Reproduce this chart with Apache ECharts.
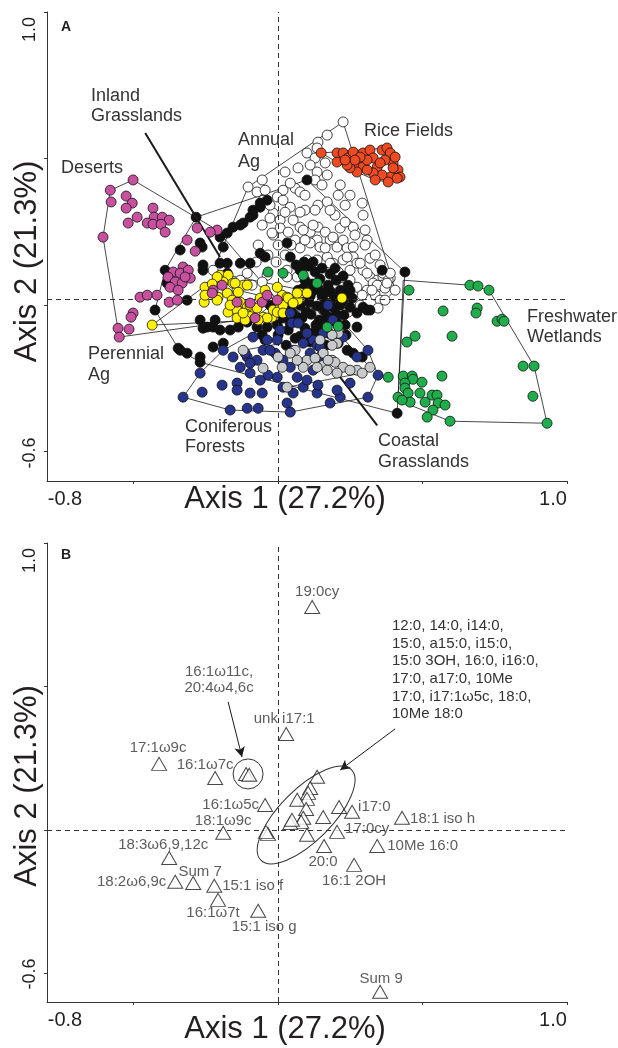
<!DOCTYPE html>
<html><head><meta charset="utf-8">
<script src="https://cdn.jsdelivr.net/npm/echarts@6.0.0/dist/echarts.min.js"></script>
<style>html,body{margin:0;padding:0;background:#fff}#c{width:618px;height:1048px}</style>
</head><body><div id="c"></div>
<script>
// ---------------- DATA ----------------
const xTickValues = [-0.5, 0, 0.5, 1.0];
const yTickValues = [-0.5, 0, 0.5, 1.0];
const xTickLabels = [-0.8, 1.0];
const yTickLabels = [-0.6, 1.0];
const axis1Title = 'Axis 1 (27.2%)';
const axis2Title = 'Axis 2 (21.3%)';
const panelLetters = ['A', 'B'];
const habitatNames = ['Inland\nGrasslands','Deserts','Annual\nAg','Rice Fields','Freshwater\nWetlands','Perennial\nAg','Coniferous\nForests','Coastal\nGrasslands'];

// Panel A: site scores
const deserts = [[-0.502,0.427],[-0.581,0.392],[-0.578,0.352],[-0.526,0.372],[-0.505,0.348],[-0.526,0.331],[-0.488,0.300],[-0.519,0.280],[-0.433,0.331],[-0.429,0.300],[-0.401,0.300],[-0.377,0.290],[-0.453,0.280],[-0.433,0.276],[-0.405,0.276],[-0.391,0.249],[-0.606,0.232],[-0.280,0.263],[-0.211,0.256],[-0.235,0.249],[-0.315,0.222],[-0.287,0.184],[-0.329,0.130],[-0.363,0.113],[-0.339,0.109],[-0.311,0.119],[-0.381,0.096],[-0.356,0.079],[-0.332,0.075],[-0.304,0.092],[-0.374,0.061],[-0.346,0.051],[-0.377,0.010],[-0.349,0.017],[-0.478,0.027],[-0.453,0.034],[-0.419,0.034],[-0.502,-0.027],[-0.509,-0.041],[-0.554,-0.079],[-0.516,-0.082],[-0.550,-0.109],[-0.225,0.051],[-0.194,0.068],[-0.228,0.041],[-0.142,0.010],[-0.097,0.007],[-0.055,0.010],[-0.038,0.034],[-0.003,0.017],[-0.080,-0.044],[-0.322,0.096]];
const inlandGrasslands = [[-0.253,0.061],[-0.256,0.010],[-0.201,0.102],[-0.173,0.102],[-0.190,0.079],[-0.156,0.075],[-0.121,0.068],[-0.208,0.027],[-0.176,0.041],[-0.159,0.017],[-0.131,0.010],[-0.173,-0.024],[-0.142,-0.017],[-0.142,-0.044],[-0.114,-0.024],[-0.097,-0.034],[-0.107,-0.007],[-0.087,-0.007],[-0.052,-0.041],[-0.021,-0.041],[-0.017,-0.017],[0.007,-0.010],[0.014,0.034],[0.042,0.017],[0.069,0.017],[0.076,0.041],[0.100,0.041],[0.031,0.027],[-0.003,0.061],[0.221,0.024],[-0.436,-0.068],[-0.253,0.034],[-0.149,0.075],[-0.138,0.044],[-0.107,0.068],[-0.114,-0.051],[-0.097,0.000],[-0.038,-0.044],[-0.003,-0.024],[0.017,0.000],[0.035,0.024],[0.066,0.041],[-0.211,0.096],[-0.211,0.017],[-0.121,-0.027],[-0.073,-0.010],[0.017,-0.027],[0.052,0.007],[-0.062,0.024],[-0.045,0.051],[-0.166,0.000],[-0.228,0.072],[-0.069,-0.051]];
const riceFields = [[0.149,0.519],[0.204,0.519],[0.204,0.488],[0.225,0.519],[0.242,0.502],[0.260,0.522],[0.273,0.485],[0.294,0.519],[0.294,0.471],[0.318,0.529],[0.329,0.502],[0.343,0.471],[0.360,0.529],[0.377,0.536],[0.388,0.519],[0.398,0.485],[0.415,0.461],[0.422,0.437],[0.388,0.437],[0.360,0.444],[0.329,0.451],[0.308,0.461],[0.273,0.454],[0.249,0.468],[0.370,0.495],[0.398,0.468],[0.353,0.485],[0.308,0.495],[0.284,0.505],[0.239,0.478],[0.412,0.433],[0.381,0.420],[0.336,0.427],[0.405,0.505],[0.266,0.495],[0.232,0.495]];
const annualAg = [[0.225,0.625],[0.170,0.580],[0.138,0.556],[0.135,0.536],[0.100,0.519],[0.128,0.502],[0.163,0.485],[0.111,0.478],[0.069,0.468],[0.135,0.454],[0.170,0.444],[0.128,0.427],[0.059,0.399],[0.017,0.392],[0.076,0.386],[-0.104,0.403],[-0.073,0.386],[-0.052,0.358],[-0.003,0.369],[0.017,0.358],[0.208,0.375],[0.170,0.352],[0.291,0.348],[-0.017,0.314],[-0.028,0.297],[0.007,0.290],[0.052,0.290],[0.076,0.266],[0.007,0.263],[-0.017,0.239],[0.035,0.249],[0.059,0.222],[0.111,0.249],[0.138,0.266],[0.163,0.249],[0.135,0.222],[0.111,0.212],[0.145,0.198],[0.180,0.222],[0.204,0.198],[0.225,0.222],[0.239,0.195],[0.260,0.198],[0.260,0.164],[0.273,0.143],[0.294,0.119],[0.318,0.096],[0.343,0.085],[0.363,0.096],[0.388,0.092],[0.360,0.068],[0.225,0.154],[0.190,0.143],[0.170,0.164],[0.100,0.154],[0.076,0.130],[0.031,0.119],[-0.225,0.119],[-0.107,0.109],[-0.038,0.102],[-0.021,0.246],[0.087,0.256],[0.121,0.273],[0.190,0.232],[0.215,0.263],[0.260,0.266],[0.308,0.222],[0.135,0.154],[0.180,0.143],[0.239,0.164],[0.284,0.143],[0.249,0.119],[0.308,0.109],[0.329,0.075],[0.343,0.061],[0.308,0.051],[0.273,0.061],[0.225,0.061],[0.204,0.027],[0.066,0.096],[0.031,0.096],[-0.142,0.051],[0.156,-0.017],[0.363,0.109],[0.381,0.085],[0.343,0.068],[0.370,0.058],[0.336,0.034],[0.353,0.017],[0.346,-0.010],[0.377,0.075],[0.388,0.109],[0.042,0.334],[0.093,0.324],[-0.055,0.273],[-0.069,0.205],[0.076,0.195],[0.024,0.171],[0.301,0.256],[0.318,0.160],[0.294,0.307],[0.197,0.307],[0.232,0.341],[-0.045,0.392],[0.042,0.416],[0.093,0.375],[0.138,0.341],[0.180,0.324],[0.232,0.283],[0.266,0.239],[0.301,0.205],[0.336,0.171],[0.353,0.137],[0.325,0.051],[0.291,0.034],[0.249,0.085],[0.208,0.113],[0.163,0.195],[0.093,0.222],[0.045,0.205],[0.000,0.205],[-0.035,0.171],[-0.007,0.147],[-0.076,0.147],[-0.131,0.085],[-0.090,0.068],[-0.055,0.079],[0.128,0.324],[-0.028,0.341],[0.024,0.317],[0.076,0.317],[0.152,0.410],[0.215,0.410],[0.249,0.375],[0.024,0.454],[-0.055,0.427],[0.405,0.051],[0.370,0.017],[0.284,0.000],[0.242,-0.024]];
const perennialAg = [[-0.284,0.300],[0.100,0.427],[0.439,0.113],[0.412,-0.369],[-0.270,0.212],[-0.339,0.188],[-0.391,0.119],[-0.426,-0.017],[-0.315,0.017],[-0.263,0.198],[-0.190,0.198],[-0.176,0.246],[-0.156,0.266],[-0.121,0.280],[-0.097,0.300],[-0.087,0.324],[-0.062,0.348],[-0.038,0.358],[-0.176,0.143],[-0.131,0.143],[-0.176,0.109],[-0.062,0.177],[0.042,0.164],[0.031,0.212],[-0.225,-0.075],[-0.246,-0.075],[-0.339,-0.154],[-0.315,-0.164],[-0.045,0.164],[-0.097,0.143],[-0.201,0.143],[-0.260,0.119],[-0.384,0.075],[-0.270,-0.051],[-0.260,-0.079],[-0.218,-0.051],[-0.201,-0.085],[-0.166,-0.085],[-0.225,-0.143],[-0.190,-0.130],[-0.346,-0.147],[-0.270,-0.177],[-0.107,-0.058],[-0.138,-0.075],[-0.073,-0.075],[-0.038,-0.075],[-0.003,-0.068],[0.042,-0.061],[0.066,-0.041],[0.273,-0.075],[0.260,-0.164],[0.291,-0.177],[0.239,-0.154],[0.208,-0.130],[0.360,0.119],[0.318,-0.017],[-0.131,0.273],[-0.201,0.232],[-0.260,0.137],[-0.062,0.334],[-0.087,0.307],[-0.270,-0.195],[0.249,-0.007],[0.273,-0.027],[0.294,-0.007],[0.308,-0.017],[0.225,0.017],[0.076,0.119],[0.104,0.133],[0.128,0.113],[0.152,0.126],[0.180,0.106],[0.093,0.085],[0.118,0.072],[0.145,0.089],[0.173,0.068],[0.201,0.085],[0.069,0.051],[0.097,0.038],[0.125,0.051],[0.152,0.031],[0.180,0.048],[0.215,0.051],[0.076,0.000],[0.107,0.010],[0.135,-0.003],[0.163,0.010],[0.190,-0.007],[0.048,-0.024],[0.083,-0.044],[0.114,-0.031],[0.142,-0.051],[0.170,-0.038],[0.201,-0.058],[0.228,-0.034],[0.093,-0.079],[0.125,-0.092],[0.152,-0.075],[0.180,-0.099],[0.111,-0.126],[0.145,-0.119],[0.035,-0.085],[0.059,-0.113],[0.017,-0.044],[0.031,-0.010],[0.232,-0.068],[0.249,0.051],[0.121,0.147],[-0.045,-0.119],[-0.028,0.000],[-0.055,-0.102],[0.000,-0.102],[0.028,-0.137],[0.062,0.137],[0.090,0.147],[0.197,0.126],[0.225,0.099],[0.242,0.068],[0.256,0.024],[0.215,0.000],[0.235,-0.102],[0.201,-0.119],[0.166,-0.137],[0.076,-0.106],[0.048,-0.058],[0.062,0.017],[0.087,0.058],[0.111,0.031],[0.138,0.058],[0.166,0.044],[0.194,0.027],[0.228,0.038],[0.173,-0.058],[0.131,-0.068],[0.097,-0.024],[0.159,-0.017],[0.201,-0.031]];
const freshwaterWetlands = [[0.453,0.051],[0.664,0.068],[0.692,0.065],[0.730,0.051],[0.571,-0.020],[0.689,-0.010],[0.685,-0.027],[0.758,-0.055],[0.775,-0.048],[0.782,-0.055],[0.474,-0.106],[0.446,-0.126],[0.602,-0.106],[0.848,-0.208],[0.886,-0.208],[0.381,-0.246],[0.433,-0.242],[0.464,-0.242],[0.467,-0.253],[0.439,-0.266],[0.498,-0.263],[0.567,-0.242],[0.882,-0.311],[0.439,-0.283],[0.450,-0.300],[0.457,-0.331],[0.491,-0.300],[0.509,-0.331],[0.533,-0.307],[0.550,-0.307],[0.554,-0.334],[0.578,-0.341],[0.415,-0.314],[0.429,-0.324],[0.536,-0.358],[0.516,-0.382],[0.595,-0.396],[0.931,-0.403],[-0.035,0.113],[0.017,0.109],[0.087,0.102],[0.135,0.075],[0.170,-0.075],[0.208,-0.072]];
const wetlandsOutline = [[0.433,0.085],[0.664,0.068],[0.730,0.051],[0.886,-0.208],[0.931,-0.403],[0.595,-0.396],[0.415,-0.324],[0.433,0.085]];
const coniferousForests = [[-0.270,-0.232],[-0.329,-0.314],[-0.263,-0.297],[-0.194,-0.273],[-0.142,-0.266],[-0.166,-0.358],[-0.107,-0.352],[-0.069,-0.352],[0.031,-0.334],[0.052,-0.300],[0.087,-0.280],[0.135,-0.300],[0.180,-0.334],[0.215,-0.314],[0.249,-0.266],[0.311,-0.314],[0.346,-0.239],[0.311,-0.154],[0.187,-0.051],[0.156,-0.096],[0.121,-0.119],[0.087,-0.130],[0.052,-0.154],[0.017,-0.188],[-0.010,-0.164],[-0.052,-0.154],[-0.073,-0.188],[-0.107,-0.177],[-0.131,-0.212],[-0.156,-0.177],[-0.190,-0.154],[-0.087,-0.109],[0.042,-0.027],[0.048,-0.061],[0.007,-0.085],[-0.003,-0.119],[0.173,0.000],[0.135,-0.137],[0.145,-0.177],[0.121,-0.222],[0.138,-0.273],[0.100,-0.256],[0.066,-0.246],[-0.003,-0.246],[-0.035,-0.239],[0.017,-0.280],[-0.062,-0.256],[-0.097,-0.232],[-0.142,-0.290],[0.204,-0.290],[-0.097,-0.300],[-0.055,-0.300],[0.190,-0.051],[0.069,-0.061],[-0.038,-0.119],[-0.114,-0.164],[-0.097,-0.198],[-0.028,-0.154],[0.100,-0.096],[0.145,-0.143],[0.111,-0.164],[0.083,-0.198],[0.042,-0.212],[0.225,-0.109],[0.273,-0.177],[0.042,-0.365]];
const coastalGrasslands = [[0.208,-0.096],[0.187,-0.102],[0.204,-0.130],[0.156,-0.164],[0.187,-0.188],[0.273,-0.222],[0.318,-0.212],[0.100,-0.188],[0.087,-0.212],[0.066,-0.188],[0.000,-0.177],[0.059,-0.154],[0.014,-0.212],[-0.052,-0.215],[-0.121,-0.154],[0.031,-0.280],[0.145,-0.119],[0.187,-0.137],[0.197,-0.195],[0.156,-0.205],[0.225,-0.212],[0.249,-0.222],[0.291,-0.232],[0.042,-0.164],[0.128,-0.181],[0.173,-0.188],[0.204,-0.232],[0.170,-0.222],[0.135,-0.212]];
// Panel A pointer lines: [label end, group end]
const pointerInland = [[-0.460,0.587],[-0.201,0.164]];
const pointerCoastal = [[0.204,-0.232],[0.343,-0.410]];
const originA = [0, 0.02];

// Panel B: fatty acid loadings
const famNames = ['19:0cy','unk i17:1','17:1ω9c','16:1ω7c','16:1ω11c','20:4ω4,6c','16:1ω5c','18:1ω9c','18:3ω6,9,12c','Sum 7','18:2ω6,9c','15:1 iso f','16:1ω7t','15:1 iso g','Sum 9','18:1 iso h','10Me 16:0','16:1 2OH','20:0','17:0cy','i17:0'];
const famX = [0.118,0.028,-0.412,-0.218,-0.111,-0.100,-0.045,-0.190,-0.377,-0.294,-0.356,-0.221,-0.208,-0.069,0.353,0.429,0.343,0.263,0.159,0.204,0.256];
const famY = [0.777,0.334,0.230,0.181,0.195,0.192,0.087,-0.010,-0.098,-0.185,-0.181,-0.195,-0.244,-0.282,-0.564,0.042,-0.056,-0.122,-0.056,-0.007,0.063];
const clusterNames = ['12:0','14:0','i14:0','15:0','a15:0','i15:0','15:0 3OH','16:0','i16:0','17:0','a17:0','10Me 17:0','i17:1ω5c','18:0','10Me 18:0'];
const clusterX = [0.135,0.111,0.104,0.100,0.066,0.097,0.087,0.080,0.042,0.048,0.100,0.156,0.211,-0.035,-0.042];
const clusterY = [0.185,0.146,0.129,0.108,0.105,0.073,0.042,0.028,0.024,0.035,-0.017,0.045,0.080,-0.014,-0.007];
const clusterText = '12:0, 14:0, i14:0,\n15:0, a15:0, i15:0,\n15:0 3OH, 16:0, i16:0,\n17:0, a17:0, 10Me\n17:0, i17:1ω5c, 18:0,\n10Me 18:0';
const circledText = '16:1ω11c,\n20:4ω4,6c';
const ellipseCenter = [0.097, 0.052];
const circleCenter = [-0.104, 0.195];
const arrowCircled = [[-0.173,0.446],[-0.125,0.254]];
const arrowCluster = [[0.405,0.352],[0.215,0.209]];
const originB = [0, 0];

// ---------------- LAYOUT / STYLE ----------------
const FONT = '"Liberation Sans", Arial, Helvetica, sans-serif';
const INK = '#231f20';
// label offsets (px) relative to triangle centre: [dx, dy, align]
const famLabelLayout = {
 '19:0cy':[5,-15,'center'],'unk i17:1':[-2,-15,'center'],'17:1ω9c':[-1,-16,'center'],'16:1ω7c':[-10,-13,'center'],
 '16:1ω11c':[-27,-94,'center'],'16:1ω5c':[-6,0,'right'],'18:1ω9c':[0,-12,'center'],'18:3ω6,9,12c':[-6,-13,'center'],
 'Sum 7':[7,-11,'center'],'18:2ω6,9c':[-9,0,'right'],'15:1 iso f':[8,0,'left'],'16:1ω7t':[-5,13,'center'],
 '15:1 iso g':[6,16,'center'],'Sum 9':[1,-13,'center'],'18:1 iso h':[8,1,'left'],'10Me 16:0':[10,0,'left'],
 '16:1 2OH':[0,16,'center'],'20:0':[-1,16,'center'],'17:0cy':[8,-3,'left'],'i17:0':[6,-5,'left']
};
const habitatLayout = [[91,106,20],[61,168,20],[238,151,22],[364,131,20],[527,327,20],[88,365,21],[185,437,20],[378,452,21]];

function hull(pts){
  const p = pts.slice().sort((a,b)=>a[0]-b[0]||a[1]-b[1]);
  const cr=(o,a,b)=>(a[0]-o[0])*(b[1]-o[1])-(a[1]-o[1])*(b[0]-o[0]);
  const lo=[],up=[];
  for(const q of p){while(lo.length>=2&&cr(lo[lo.length-2],lo[lo.length-1],q)<=0)lo.pop();lo.push(q);}
  for(let i=p.length-1;i>=0;i--){const q=p[i];while(up.length>=2&&cr(up[up.length-2],up[up.length-1],q)<=0)up.pop();up.push(q);}
  up.pop();lo.pop();const h=lo.concat(up);h.push(h[0]);return h;
}

const groupsA = [
  {name:'Annual Ag', data:annualAg, color:'#ffffff'},
  {name:'Perennial Ag', data:perennialAg, color:'#111111'},
  {name:'Rice Fields', data:riceFields, color:'#ef4b23'},
  {name:'Inland Grasslands', data:inlandGrasslands, color:'#fff200'},
  {name:'Deserts', data:deserts, color:'#c7519f'},
  {name:'Coniferous Forests', data:coniferousForests, color:'#27348b'},
  {name:'Coastal Grasslands', data:coastalGrasslands, color:'#c9cacc'},
  {name:'Freshwater Wetlands', data:freshwaterWetlands, color:'#1fae4b'}
];

function xAxisCfg(gi, gap){
  return {type:'value', gridIndex:gi, min:-0.8, max:1.0, splitLine:{show:false},
    axisLine:{show:true, onZero:false, lineStyle:{color:'#333', width:1}},
    axisTick:{show:true, customValues:xTickValues, length:3, lineStyle:{color:'#333'}},
    axisLabel:{show:true, customValues:xTickLabels, margin:8, color:INK, fontSize:20, fontFamily:FONT,
      formatter:v=> v<0 ? '{lo|'+v.toFixed(1)+'}' : '{hi|'+v.toFixed(1)+'}',
      rich:{lo:{fontSize:20,fontFamily:FONT,color:INK,padding:[0,0,0,36]}, hi:{fontSize:20,fontFamily:FONT,color:INK,padding:[0,28,0,0]}}},
    name:axis1Title, nameLocation:'middle', nameGap:gap, nameMoveOverlap:false,
    nameTextStyle:{fontSize:31, fontFamily:FONT, color:INK, padding:[0,44,0,0]}};
}
function yAxisCfg(gi, padR){
  return {type:'value', gridIndex:gi, min:-0.6, max:1.0, splitLine:{show:false},
    axisLine:{show:true, onZero:false, lineStyle:{color:'#333', width:1}},
    axisTick:{show:true, customValues:yTickValues, length:3, lineStyle:{color:'#333'}},
    axisLabel:{show:true, customValues:yTickLabels, rotate:90, margin:8, color:INK, fontSize:18, fontFamily:FONT,
      formatter:v=> v<0 ? '{lo|'+v.toFixed(1)+'}' : '{hi|'+v.toFixed(1)+'}',
      rich:{lo:{fontSize:18,fontFamily:FONT,color:INK,padding:[0,0,0,56]}, hi:{fontSize:18,fontFamily:FONT,color:INK,padding:[0,35,0,0]}}},
    name:axis2Title, nameLocation:'middle', nameGap:4, nameMoveOverlap:false,
    nameTextStyle:{fontSize:31, fontFamily:FONT, color:INK, padding:[0,padR,0,0]}};
}

const series = [];
// hull outlines (panel A)
groupsA.forEach(g=>{
  const h = g.name==='Freshwater Wetlands' ? wetlandsOutline : hull(g.data);
  series.push({type:'line', xAxisIndex:0, yAxisIndex:0, data:h, symbol:'none', silent:true, z:2,
    lineStyle:{color:'#1a1a1a', width:0.8}});
});
// reference dashed lines A
series.push({type:'scatter', xAxisIndex:0, yAxisIndex:0, data:[], silent:true, z:1,
  markLine:{silent:true, symbol:['none','none'], label:{show:false}, lineStyle:{type:[5,4], color:'#333', width:1},
    data:[{xAxis:originA[0]},{yAxis:originA[1]}]}});
// points A
groupsA.forEach((g,i)=>{
  series.push({type:'scatter', name:g.name, xAxisIndex:0, yAxisIndex:0, data:g.data, symbol:'circle', symbolSize:10, z:3+i,
    itemStyle:{color:g.color, borderColor:'#111', borderWidth:0.8, opacity:1}, emphasis:{disabled:true}});
});
// pointer lines A
series.push({type:'scatter', xAxisIndex:0, yAxisIndex:0, data:[], silent:true, z:20,
  markLine:{silent:true, symbol:['none','none'], label:{show:false}, lineStyle:{type:'solid', color:'#1a1a1a', width:2},
    data:[[{coord:pointerInland[0]},{coord:pointerInland[1]}],[{coord:pointerCoastal[0]},{coord:pointerCoastal[1]}]]}});

// panel B dashed lines
series.push({type:'scatter', xAxisIndex:1, yAxisIndex:1, data:[], silent:true, z:1,
  markLine:{silent:true, symbol:['none','none'], label:{show:false}, lineStyle:{type:[5,4], color:'#333', width:1},
    data:[{xAxis:originB[0]},{yAxis:originB[1]}]}});
// arrows B
series.push({type:'scatter', xAxisIndex:1, yAxisIndex:1, data:[], silent:true, z:20,
  markLine:{silent:true, symbol:['none','arrow'], symbolSize:[8,10], label:{show:false}, lineStyle:{type:'solid', color:'#1a1a1a', width:1},
    data:[[{coord:arrowCircled[0]},{coord:arrowCircled[1]}],[{coord:arrowCluster[0]},{coord:arrowCluster[1]}]]}});
const triStyle = {color:'#ffffff', borderColor:'#1a1a1a', borderWidth:1};
series.push({type:'scatter', xAxisIndex:1, yAxisIndex:1, symbol:'triangle', symbolSize:[15,13], z:5,
  itemStyle:triStyle, emphasis:{disabled:true},
  data: clusterNames.map((n,i)=>({name:n, value:[clusterX[i], clusterY[i]]}))});
series.push({type:'scatter', xAxisIndex:1, yAxisIndex:1, symbol:'triangle', symbolSize:[15,13], z:6,
  itemStyle:triStyle, emphasis:{disabled:true},
  data: famNames.map((n,i)=>{
    const L = famLabelLayout[n];
    const item = {name:n, value:[famX[i], famY[i]]};
    if(L){
      item.label = {show:true, position:'inside', offset:[L[0],L[1]], align:L[2], verticalAlign:'middle',
        formatter: n==='16:1ω11c' ? circledText : n, color:'#333', fontSize:15, fontFamily:FONT, lineHeight:16};
    }
    return item;
  })});

const option = {
  animation:false, backgroundColor:'#fff',
  grid:[{left:47, top:12, width:520, height:469, containLabel:false, outerBoundsMode:'none'},
        {left:47, top:543, width:520, height:459, containLabel:false, outerBoundsMode:'none'}],
  xAxis:[xAxisCfg(0, 3), xAxisCfg(1, 12)],
  yAxis:[yAxisCfg(0, 30), yAxisCfg(1, 27)],
  series
};
const chart = echarts.init(document.getElementById('c'), null, {renderer:'canvas'});
chart.setOption(option);

const ec = chart.convertToPixel({xAxisIndex:1, yAxisIndex:1}, ellipseCenter);
const cc = chart.convertToPixel({xAxisIndex:1, yAxisIndex:1}, circleCenter);
const graphics = [];
habitatNames.forEach((t,i)=>{
  const L = habitatLayout[i];
  graphics.push({type:'text', x:L[0], y:L[1], silent:true, z:30,
    style:{text:t, fill:'#333', font:'18px '+FONT, lineHeight:L[2], align:'left', verticalAlign:'middle'}});
});
graphics.push({type:'text', x:66, y:27, silent:true, style:{text:panelLetters[0], fill:INK, font:'bold 14px '+FONT, align:'center', verticalAlign:'middle'}});
graphics.push({type:'text', x:66, y:555, silent:true, style:{text:panelLetters[1], fill:INK, font:'bold 14px '+FONT, align:'center', verticalAlign:'middle'}});
graphics.push({type:'text', x:392, y:670, silent:true, style:{text:clusterText, fill:'#333', font:'15px '+FONT, lineHeight:17.6, align:'left', verticalAlign:'middle'}});
graphics.push({type:'ellipse', x:ec[0], y:ec[1], rotation:Math.PI/4, silent:true, z:10,
  shape:{cx:0, cy:0, rx:64, ry:26}, style:{fill:'none', stroke:'#333', lineWidth:1}});
graphics.push({type:'circle', x:cc[0], y:cc[1], silent:true, z:10,
  shape:{cx:0, cy:0, r:15}, style:{fill:'none', stroke:'#333', lineWidth:1}});
chart.setOption({graphic:graphics});
</script></body></html>
